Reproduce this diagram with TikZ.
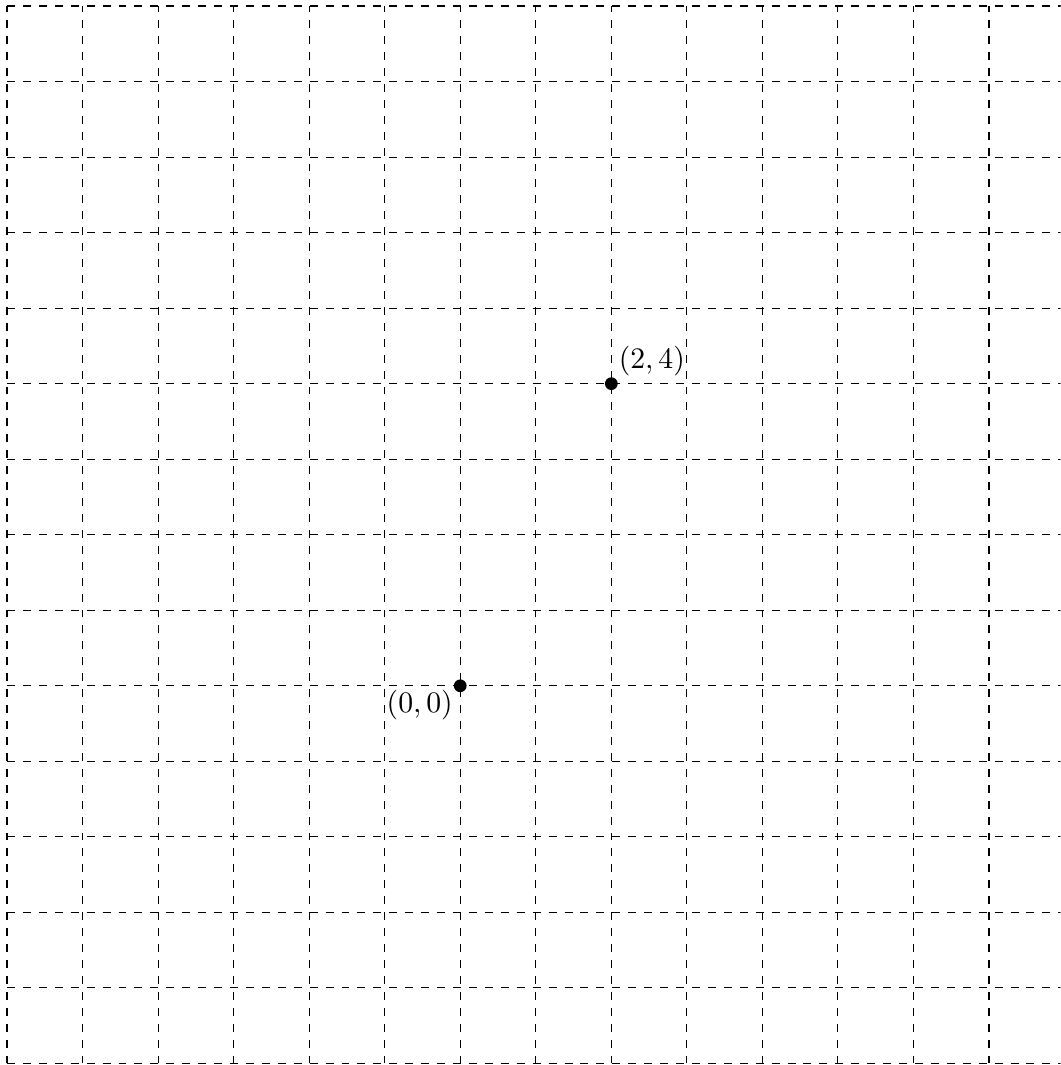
\RequirePackage{fix-cm}
\documentclass[tikz,border=0pt]{standalone}
\tikzset{
  gridline/.style={dashed, thin, black},
  ptdot/.style={circle, fill=black, inner sep=0pt, minimum size=4.8pt},
  ptlabel/.style={inner sep=0pt, font=\fontsize{11.2pt}{13pt}\selectfont},
}
\begin{document}
\begin{tikzpicture}
\useasboundingbox (-6.093,-5.020) rectangle (7.947,9.079);
\clip (-6.093,-5.020) rectangle (7.947,9.079);
\draw[gridline, step=1] (-6,-5) grid (9,9);
\node[ptdot] (p0) at (0,0) {};
\node[ptdot] (p1) at (2,4) {};
\node[ptlabel, anchor=north east] (l0) at ([shift={(-2.6pt,-1.6pt)}]p0.center) {$(0,0)$};
\node[ptlabel, anchor=south west] (l1) at ([shift={(2.6pt,2.8pt)}]p1.center) {$(2,4)$};
\end{tikzpicture}
\end{document}
